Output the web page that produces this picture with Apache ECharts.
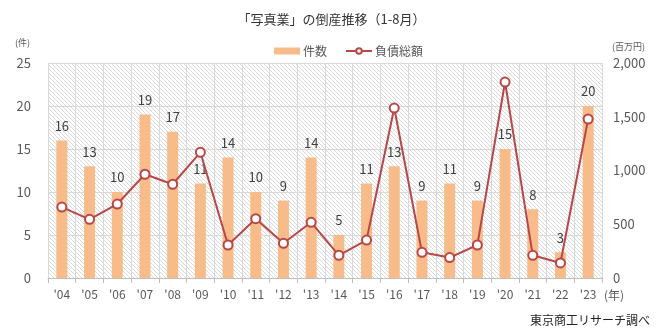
<!DOCTYPE html>
<html>
<head>
<meta charset="utf-8">
<script src="https://cdn.jsdelivr.net/npm/echarts@6/dist/echarts.min.js"></script>
<style>
  html, body { margin: 0; padding: 0; background: #fff; }
  #chart { width: 663px; height: 335px; }
</style>
</head>
<body>
<div id="chart"></div>
<script>
// 写真業の倒産件数と負債総額（1-8月）
const years = ["'04", "'05", "'06", "'07", "'08", "'09", "'10", "'11", "'12", "'13",
               "'14", "'15", "'16", "'17", "'18", "'19", "'20", "'21", "'22", "'23"];
const counts = [16, 13, 10, 19, 17, 11, 14, 10, 9, 14, 5, 11, 13, 9, 11, 9, 15, 8, 3, 20];
const debts = [660, 546, 688, 965, 872, 1169, 307, 552, 323, 518, 211, 353, 1581, 239, 190, 307, 1823, 211, 140, 1479];
const countTicks = [0, 5, 10, 15, 20, 25];
const debtTicks = [0, 500, 1000, 1500, 2000];

const FONT = "'Noto Sans CJK JP', sans-serif";
const TEXT = '#595959';

// fine diagonal hatch for the plot background
function hatch() {
  const n = 4;
  const c = document.createElement('canvas');
  c.width = n; c.height = n;
  const g = c.getContext('2d');
  g.fillStyle = '#ffffff';
  g.fillRect(0, 0, n, n);
  g.fillStyle = '#d9d9d9';
  for (let i = 0; i < n; i++) g.fillRect(i, i, 1, 1);
  return c;
}

const chart = echarts.init(document.getElementById('chart'), null, { renderer: 'canvas' });
chart.setOption({
  animation: false,
  textStyle: { fontFamily: FONT },
  title: {
    text: '「写真業」の倒産推移（1-8月）',
    left: 'center', top: 8,
    textStyle: { fontSize: 13, fontWeight: 'normal', color: '#333', fontFamily: FONT }
  },
  legend: {
    top: 40, left: 269,
    itemGap: 18,
    itemWidth: 26, itemHeight: 7,
    textStyle: { fontSize: 12, color: TEXT, fontFamily: FONT, padding: [0, 0, 0, -2] },
    data: [
      { name: '件数', icon: 'rect' },
      { name: '負債総額' }
    ]
  },
  grid: {
    left: 48, right: 61, top: 63, bottom: 57,
    show: true,
    borderWidth: 0,
    backgroundColor: { image: hatch(), repeat: 'repeat' }
  },
  xAxis: {
    type: 'category',
    data: years,
    boundaryGap: true,
    axisLine: { lineStyle: { color: '#bfbfbf' } },
    axisTick: { show: true, length: 5, lineStyle: { color: '#bfbfbf' } },
    axisLabel: { color: TEXT, fontSize: 12, margin: 10, fontFamily: FONT },
    splitLine: { show: true, lineStyle: { color: '#d9d9d9' } }
  },
  yAxis: [
    {
      type: 'value', min: 0, max: 25, interval: 5,
      axisLine: { show: false }, axisTick: { show: false },
      axisLabel: { color: TEXT, fontSize: 13, margin: 17, fontFamily: FONT },
      splitLine: { lineStyle: { color: '#d9d9d9' } }
    },
    {
      type: 'value', min: 0, max: 2000, interval: 500,
      axisLine: { show: false }, axisTick: { show: false },
      axisLabel: {
        color: TEXT, fontSize: 13, margin: 11, fontFamily: FONT,
        formatter: v => v.toLocaleString('en-US')
      },
      splitLine: { show: false }
    }
  ],
  series: [
    {
      name: '件数', type: 'bar', yAxisIndex: 0,
      data: counts, barWidth: 11,
      itemStyle: { color: '#F8BC8A' },
      label: { show: true, position: 'top', distance: 8, color: '#404040', fontSize: 13, fontFamily: FONT },
      z: 2
    },
    {
      name: '負債総額', type: 'line', yAxisIndex: 1,
      data: debts,
      symbol: 'circle', symbolSize: 9,
      lineStyle: { color: '#B84848', width: 2 },
      itemStyle: { color: '#ffffff', borderColor: '#B84848', borderWidth: 2 },
      z: 3
    }
  ],
  graphic: [
    { type: 'text', left: 15, top: 38, style: { text: '(件)', fill: TEXT, font: '9px ' + FONT } },
    { type: 'text', left: 612, top: 42, style: { text: '(百万円)', fill: TEXT, font: '9px ' + FONT } },
    { type: 'text', left: 604, top: 289, style: { text: '(年)', fill: TEXT, font: '12px ' + FONT } },
    { type: 'text', right: 13, top: 314, style: { text: '東京商工リサーチ調べ', fill: '#222', font: '12px ' + FONT } }
  ]
});
</script>
</body>
</html>
